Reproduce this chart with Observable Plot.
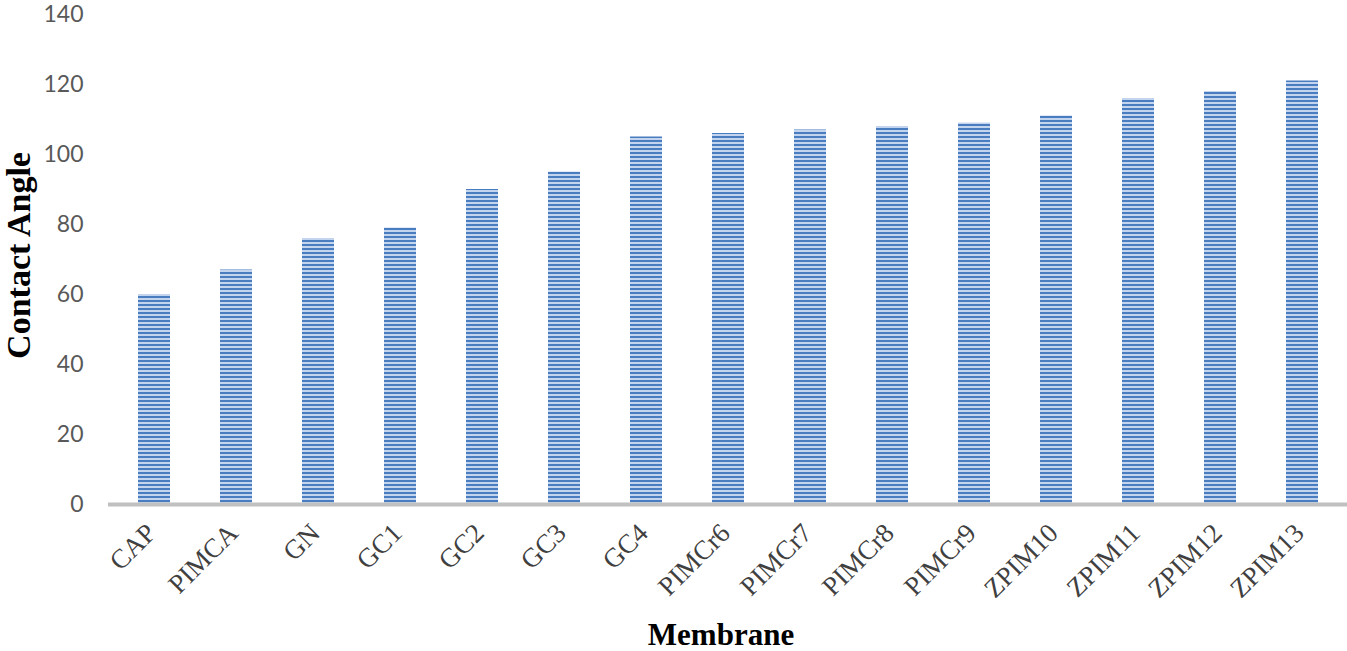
<!DOCTYPE html>
<html>
<head>
<meta charset="utf-8">
<script src="https://cdn.jsdelivr.net/npm/d3@7"></script>
<script src="https://cdn.jsdelivr.net/npm/@observablehq/plot@0.6"></script>
<style>
  html, body { margin: 0; padding: 0; background: #fff; }
  #chart svg { display: block; }
</style>
</head>
<body>
<div id="chart"></div>
<script>
const membranes = ["CAP","PIMCA","GN","GC1","GC2","GC3","GC4","PIMCr6","PIMCr7","PIMCr8","PIMCr9","ZPIM10","ZPIM11","ZPIM12","ZPIM13"];
const contactAngles = [60,67,76,79,90,95,105,106,107,108,109,111,116,118,121];
const yTicks = [0,20,40,60,80,100,120,140];
const xLabel = "Membrane";
const yLabel = "Contact Angle";

const data = membranes.map((m, i) => ({membrane: m, angle: contactAngles[i]}));

const chart = Plot.plot({
  width: 1347,
  height: 651,
  marginLeft: 108,
  marginRight: 0,
  marginTop: 14,
  marginBottom: 147,
  style: {background: "#fff"},
  x: {domain: membranes, paddingInner: 0.61, paddingOuter: 0.34},
  y: {domain: [0, 140]},
  marks: [
    Plot.barY(data, {x: "membrane", y: "angle", fill: "url(#stripes)"}),
    Plot.ruleY([0], {stroke: "#c0c0c0", strokeWidth: 4}),
    Plot.axisY({ticks: yTicks, tickSize: 0, tickPadding: 25, label: null,
      fontSize: 23, fill: "#595959", fontFamily: "Lato, 'Open Sans', sans-serif"}),
    Plot.axisX({tickSize: 0, tickPadding: 28, tickRotate: -45, dx: -3, dy: -4, label: null,
      fontSize: 27, fill: "#404040", fontFamily: "'Liberation Serif', 'DejaVu Serif', serif"}),
    Plot.text([yLabel], {frameAnchor: "left", textAnchor: "middle", dx: -89, dy: -4, rotate: -90, text: d => d,
      fontSize: 34, fontWeight: "bold", fill: "#000", fontFamily: "'Liberation Serif', serif"}),
    Plot.text([xLabel], {frameAnchor: "bottom", dx: -7, dy: 140, text: d => d,
      fontSize: 31, fontWeight: "bold", fill: "#000", fontFamily: "'Liberation Serif', serif"})
  ]
});

// striped fill pattern
const ns = "http://www.w3.org/2000/svg";
const defs = document.createElementNS(ns, "defs");
const pat = document.createElementNS(ns, "pattern");
pat.setAttribute("id", "stripes");
pat.setAttribute("patternUnits", "userSpaceOnUse");
pat.setAttribute("width", 8);
pat.setAttribute("height", 4);
const r1 = document.createElementNS(ns, "rect");
r1.setAttribute("width", 8); r1.setAttribute("height", 4); r1.setAttribute("fill", "#c3d5ee");
const r2 = document.createElementNS(ns, "rect");
r2.setAttribute("width", 8); r2.setAttribute("height", 2); r2.setAttribute("fill", "#4a7cc0");
pat.appendChild(r1); pat.appendChild(r2);
defs.appendChild(pat);
chart.insertBefore(defs, chart.firstChild);

document.getElementById("chart").appendChild(chart);
</script>
</body>
</html>
